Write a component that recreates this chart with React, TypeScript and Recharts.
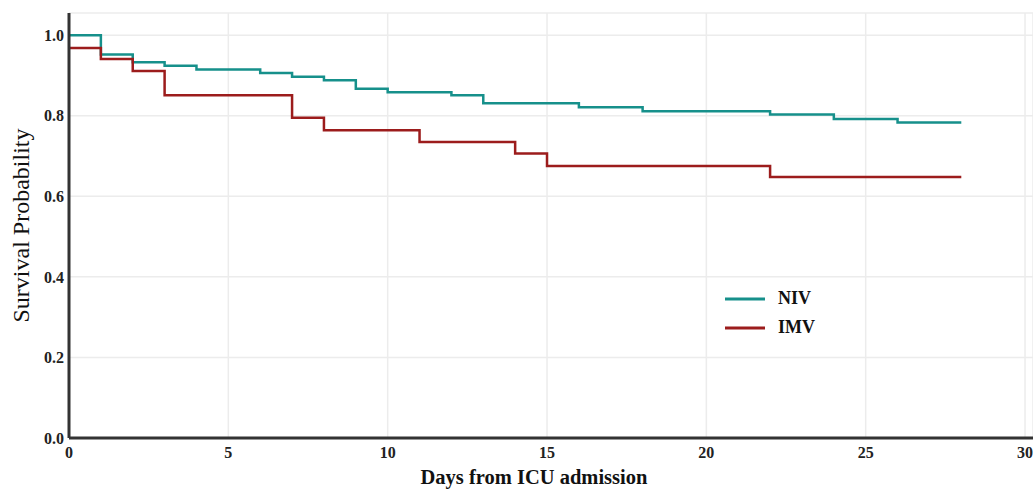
import React from 'react';
import { LineChart, Line, XAxis, YAxis, CartesianGrid, Legend, Label } from 'recharts';

const nivDays = [0, 1, 2, 3, 4, 6, 7, 8, 9, 10, 12, 13, 16, 18, 22, 24, 26, 28];
const nivSurvival = [1.0, 0.952, 0.933, 0.924, 0.915, 0.906, 0.897, 0.888, 0.867, 0.858, 0.851, 0.831, 0.821, 0.811, 0.803, 0.792, 0.783, 0.783];

const imvDays = [0, 1, 2, 3, 7, 8, 11, 14, 15, 22, 28];
const imvSurvival = [0.968, 0.941, 0.911, 0.851, 0.795, 0.764, 0.735, 0.706, 0.675, 0.648, 0.648];

const xTicks = [0, 5, 10, 15, 20, 25, 30];
const yTicks = [0, 0.2, 0.4, 0.6, 0.8, 1.0];

const NIV_COLOR = '#16908b';
const IMV_COLOR = '#9c1c1c';
const FONT = '"Liberation Serif", "DejaVu Serif", serif';

const nivData = nivDays.map((day, i) => ({ day, survival: nivSurvival[i] }));
const imvData = imvDays.map((day, i) => ({ day, survival: imvSurvival[i] }));

const legendItems = [
  { name: 'NIV', color: NIV_COLOR },
  { name: 'IMV', color: IMV_COLOR },
];

const LegendBox = () => (
  <div style={{ fontFamily: FONT, fontWeight: 'bold', fontSize: 18, color: '#111' }}>
    {legendItems.map((item) => (
      <div key={item.name} style={{ display: 'flex', alignItems: 'center', height: 29 }}>
        <svg width={40} height={6} style={{ marginRight: 13 }}>
          <line x1={0} y1={3} x2={40} y2={3} stroke={item.color} strokeWidth={3} />
        </svg>
        <span>{item.name}</span>
      </div>
    ))}
  </div>
);

const tickStyle = { fontFamily: FONT, fontWeight: 'bold', fontSize: 16, fill: '#222' };

export default function App() {
  return (
    <div style={{ position: 'absolute', left: 0, top: 0, background: '#fff' }}>
      <LineChart width={1033} height={489} margin={{ top: 13, right: 0, bottom: 0, left: 0 }}>
        <CartesianGrid stroke="#ececec" strokeWidth={1.5} />
        <XAxis
          type="number"
          dataKey="day"
          domain={[0, 30.25]}
          ticks={xTicks}
          allowDuplicatedCategory={false}
          height={51}
          tickLine={false}
          tickSize={6}
          tickMargin={3}
          axisLine={{ stroke: '#333', strokeWidth: 3 }}
          tick={tickStyle}
        >
          <Label
            value="Days from ICU admission"
            position="insideBottom"
            offset={5}
            dx={-17}
            style={{ fontFamily: FONT, fontWeight: 'bold', fontSize: 20.5, fill: '#111' }}
          />
        </XAxis>
        <YAxis
          type="number"
          domain={[0, 1.055]}
          ticks={yTicks}
          width={69}
          tickLine={false}
          tickSize={3}
          tickMargin={2}
          tickFormatter={(v: number) => v.toFixed(1)}
          axisLine={{ stroke: '#333', strokeWidth: 3 }}
          tick={tickStyle}
        >
          <Label
            value="Survival Probability"
            angle={-90}
            position="insideLeft"
            offset={20}
            style={{ fontFamily: FONT, fontSize: 24, fill: '#111', textAnchor: 'middle' }}
          />
        </YAxis>
        <Legend
          layout="horizontal"
          verticalAlign="middle"
          align="center"
          content={<LegendBox />}
          wrapperStyle={{ position: 'absolute', left: 725, top: 284, width: 'auto', height: 'auto' }}
        />
        <Line
          data={nivData}
          dataKey="survival"
          name="NIV"
          type="stepAfter"
          stroke={NIV_COLOR}
          strokeWidth={2.5}
          dot={false}
          isAnimationActive={false}
        />
        <Line
          data={imvData}
          dataKey="survival"
          name="IMV"
          type="stepAfter"
          stroke={IMV_COLOR}
          strokeWidth={2.5}
          dot={false}
          isAnimationActive={false}
        />
      </LineChart>
    </div>
  );
}
